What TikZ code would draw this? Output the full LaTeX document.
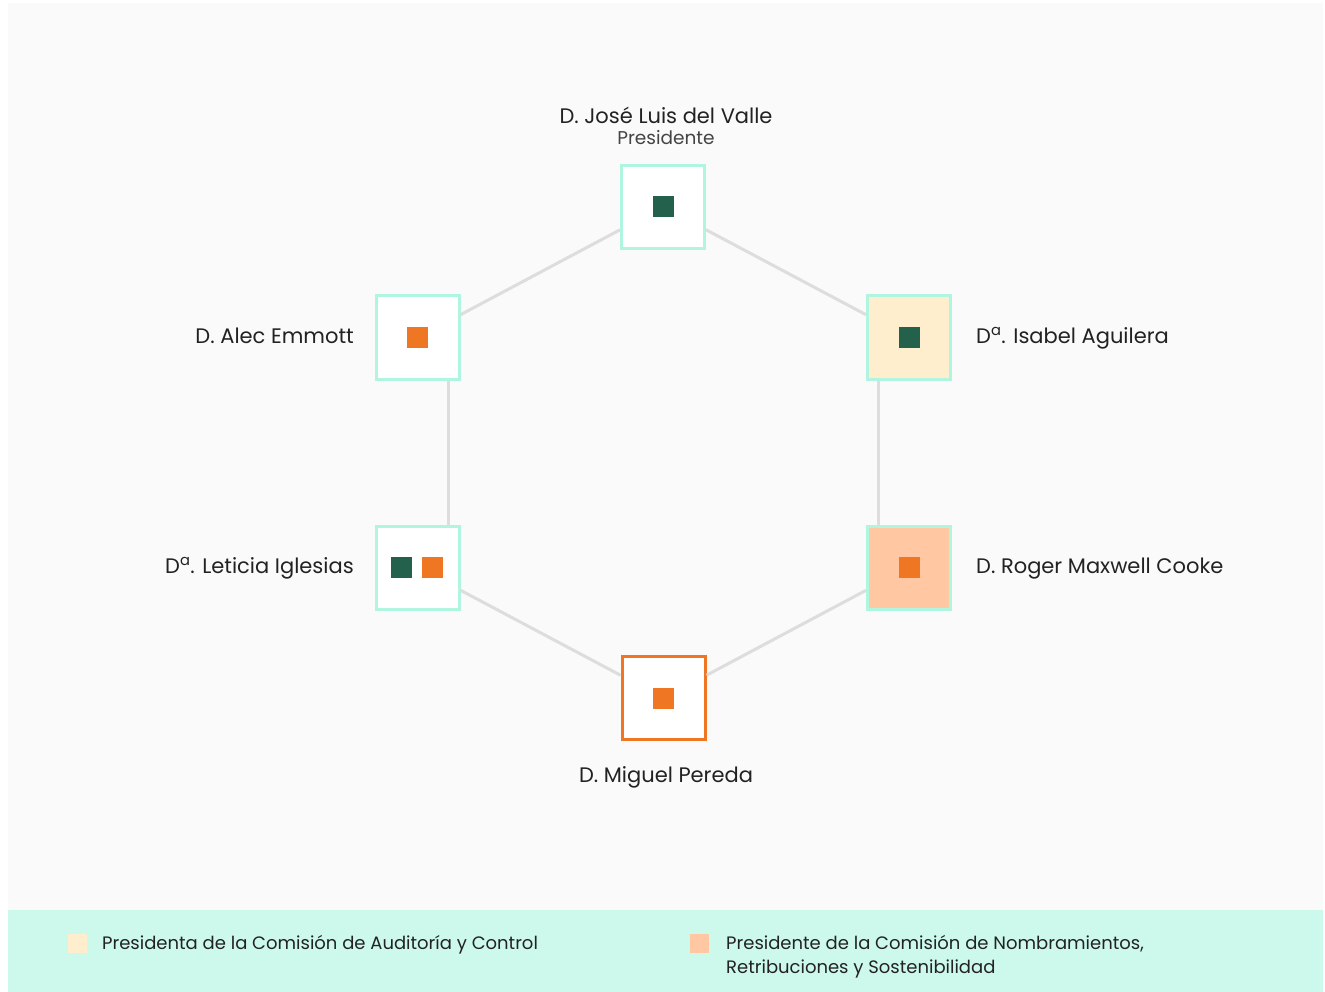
\documentclass[tikz,border=0pt]{standalone}
\usepackage{fontspec}
\setmainfont{Poppins}
\usetikzlibrary{calc}
\definecolor{panel}{HTML}{FAFAFA}
\definecolor{band}{HTML}{CCF9EC}
\definecolor{mintb}{HTML}{B0F5DF}
\definecolor{dgreen}{HTML}{23614C}
\definecolor{orng}{HTML}{EF7622}
\definecolor{cream}{HTML}{FFEECD}
\definecolor{peach}{HTML}{FFC8A3}
\definecolor{linkgray}{HTML}{DDDDDD}
\definecolor{txt}{HTML}{222222}
\definecolor{subtxt}{HTML}{444444}
\begin{document}
\begin{tikzpicture}[x=1pt,y=-1pt,
  memberbox/.style={draw=mintb, line width=3pt, fill=white, minimum size=83pt, inner sep=0pt},
  seatdot/.style={minimum size=21pt, inner sep=0pt, fill=#1},
  conn/.style={draw=linkgray, line width=3pt},
  plabel/.style={text=txt, inner sep=0pt, font=\fontsize{21}{25}\selectfont},
  legtext/.style={text=txt, inner sep=0pt, font=\fontsize{18}{24}\selectfont, align=left},
  legsq/.style={minimum size=19pt, inner sep=0pt, fill=#1}]
\useasboundingbox (0,0) rectangle (1325,992);
\fill[white] (0,0) rectangle (1325,992);
\fill[panel] (8,3) rectangle (1323,910);
\fill[band] (8,910) rectangle (1323,992);

% boxes
\node[memberbox] (jose) at (663,207) {};
\node[memberbox] (alec) at (417.5,337.5) {};
\node[memberbox, fill=cream] (isabel) at (909,337.5) {};
\node[memberbox] (leticia) at (417.5,567.5) {};
\node[memberbox, fill=peach] (roger) at (909,567.5) {};
\node[memberbox, draw=orng] (miguel) at (663.5,698) {};

% connectors
\draw[conn] (jose) -- (alec);
\draw[conn] (jose) -- (isabel);
\draw[conn] ([xshift=31pt]alec.south) -- ([xshift=31pt]leticia.north);
\draw[conn] ([xshift=-31pt]isabel.south) -- ([xshift=-31pt]roger.north);
\draw[conn] (leticia) -- (miguel);
\draw[conn] (roger) -- (miguel);

% dots
\node[seatdot=dgreen] (jose-d) at (jose) {};
\node[seatdot=orng] (alec-d) at (alec) {};
\node[seatdot=dgreen] (isabel-d) at (isabel) {};
\node[seatdot=dgreen] (leticia-d1) at ([xshift=-16pt]leticia.center) {};
\node[seatdot=orng] (leticia-d2) at ([xshift=15pt]leticia.center) {};
\node[seatdot=orng] (roger-d) at (roger) {};
\node[seatdot=orng] (miguel-d) at (miguel) {};

% labels
\node[plabel, anchor=base] (jose-l) at (666,123.5) {D. José Luis del Valle};
\node[plabel, anchor=base, text=subtxt, font=\fontsize{18.5}{22}\selectfont] (jose-s) at (666,145) {Presidente};
\node[plabel, anchor=base east] (alec-l) at (354,343.5) {D. Alec Emmott};
\node[plabel, anchor=base east] (leticia-l) at (354,573.5) {D\textsuperscript{a}. Leticia Iglesias};
\node[plabel, anchor=base west] (isabel-l) at (976,343.5) {D\textsuperscript{a}. Isabel Aguilera};
\node[plabel, anchor=base west] (roger-l) at (976,573.5) {D. Roger Maxwell Cooke};
\node[plabel, anchor=base] (miguel-l) at (666,782) {D. Miguel Pereda};

% legend
\node[legsq=cream] (leg1-sq) at (77.5,943.5) {};
\node[legtext, anchor=base west] (leg1) at (102,949.5) {Presidenta de la Comisión de Auditoría y Control};
\node[legsq=peach] (leg2-sq) at (699.5,943.5) {};
\node[legtext, anchor=base west] (leg2) at (726,949.5) {Presidente de la Comisión de Nombramientos,};
\node[legtext, anchor=base west] (leg2b) at (726,973.5) {Retribuciones y Sostenibilidad};
\end{tikzpicture}
\end{document}
